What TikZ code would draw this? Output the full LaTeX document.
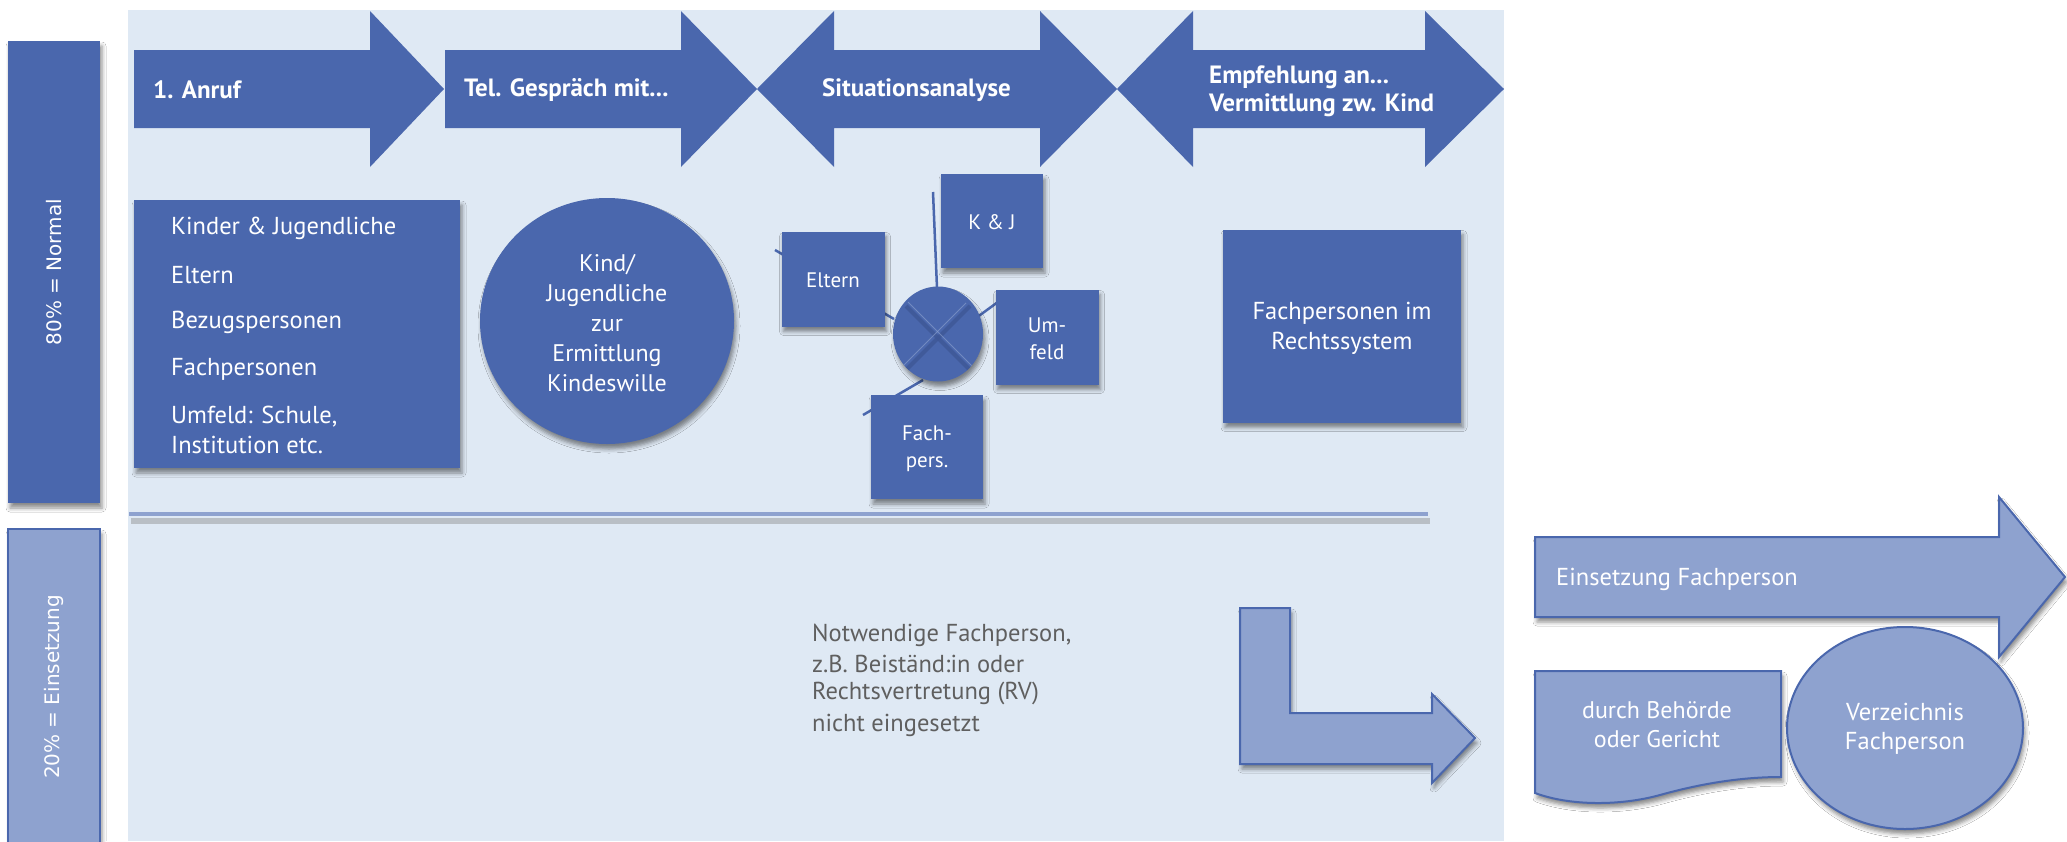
\documentclass[tikz,border=0pt]{standalone}
\usepackage{fontspec}
\setmainfont{PT Sans}
\newfontfamily\dejavu{DejaVu Sans}
\usetikzlibrary{shadows,shadows.blur,shapes.geometric}
\definecolor{dblue}{HTML}{4A67AD}
\definecolor{lblue}{HTML}{8EA2CF}
\definecolor{bgblue}{HTML}{DFE9F4}
\definecolor{graytxt}{HTML}{5F5F5F}
\definecolor{groove}{HTML}{3E5796}
\newcommand{\fsz}[1]{\fontsize{#1}{#1}\selectfont}
\tikzset{
  shad/.style={blur shadow={shadow xshift=2pt, shadow yshift=-5pt, shadow blur radius=4pt, shadow opacity=45}},
  dbox/.style={rectangle, fill=dblue, shad, inner sep=0pt},
  lshape/.style={fill=lblue, draw=dblue, line width=2pt, shad},
  wtxt/.style={text=white, inner sep=0pt},
  boldtxt/.style={wtxt, font=\bfseries\fsz{25}},
  regtxt/.style={wtxt, font=\fsz{24.5}},
  smalltxt/.style={wtxt, font=\fsz{21}},
  conn/.style={draw=dblue, line width=2.5pt},
}
\begin{document}
\begin{tikzpicture}[x=1pt,y=-1pt]
\useasboundingbox (0,0) rectangle (2067,841);
\fill[white] (0,0) rectangle (2067,841);
% background panel
\fill[bgblue] (128,10) rectangle (1504,841);

% left bars
\node[dbox, minimum width=92pt, minimum height=462pt] (bar80) at (54,272) {};
\node[wtxt, rotate=90, font=\dejavu\fsz{20}] (bar80t) at (bar80) {80\% = Normal};
\node[rectangle, fill=lblue, draw=dblue, line width=1.5pt, shad, minimum width=92pt, minimum height=320pt, inner sep=0pt] (bar20) at (54,689) {};
\node[wtxt, rotate=90, font=\dejavu\fsz{20}] (bar20t) at (54,687) {20\% = Einsetzung};

% top process arrows
\fill[dblue] (134,50) -- (370,50) -- (370,11) -- (444,89) -- (370,167) -- (370,128) -- (134,128) -- cycle;
\fill[dblue] (445,50) -- (681,50) -- (681,11) -- (757,89) -- (681,167) -- (681,128) -- (445,128) -- cycle;
\fill[dblue] (757,89) -- (834,11) -- (834,50) -- (1040,50) -- (1040,11) -- (1117,89) -- (1040,167) -- (1040,128) -- (834,128) -- (834,167) -- cycle;
\fill[dblue] (1117,89) -- (1193,11) -- (1193,50) -- (1425,50) -- (1425,11) -- (1504,89) -- (1425,167) -- (1425,128) -- (1193,128) -- (1193,167) -- cycle;
\node[boldtxt, anchor=west] (a1) at (153,90) {1. Anruf};
\node[boldtxt, anchor=west] (a2) at (464,90) {Tel. Gespräch mit...};
\node[boldtxt, anchor=west] (a3) at (822,90) {Situationsanalyse};
\node[boldtxt, anchor=west, align=left, font=\bfseries\fontsize{25}{28}\selectfont] (a4) at (1209,91) {Empfehlung an...\\Vermittlung zw. Kind};

% Kinder box
\node[dbox, minimum width=326pt, minimum height=268pt] (kinder) at (297,334) {};
\node[regtxt, anchor=west] (k1) at (171,228) {Kinder \& Jugendliche};
\node[regtxt, anchor=west] (k2) at (171,275) {Eltern};
\node[regtxt, anchor=west] (k3) at (171,322) {Bezugspersonen};
\node[regtxt, anchor=west] (k4) at (171,369) {Fachpersonen};
\node[regtxt, anchor=west] (k5) at (171,417) {Umfeld: Schule,};
\node[regtxt, anchor=west] (k6) at (171,445) {Institution etc.};

% Kind circle
\node[ellipse, fill=dblue, shad, minimum width=254pt, minimum height=246pt, inner sep=0pt] (kind) at (607,321) {};
\node[wtxt, align=center, font=\fontsize{24}{29.8}\selectfont] (kindt) at (607,323) {Kind/\\Jugendliche\\zur\\Ermittlung\\Kindeswille};

% cluster
\coordinate (eA) at (775,250);
\coordinate (eB) at (894,319);
\coordinate (uA) at (976,318);
\coordinate (uB) at (1002,299);
\coordinate (fA) at (923,380);
\coordinate (fB) at (863,415);
\coordinate (kA) at (933,192);
\coordinate (kB) at (938,312);
\draw[conn] (eA) -- (eB);
\draw[conn] (uA) -- (uB);
\draw[conn] (fA) -- (fB);
\node[ellipse, fill=dblue, shad, minimum width=90pt, minimum height=95pt, inner sep=0pt] (hub) at (938,334) {};
\begin{scope}
\clip (938,334) ellipse [x radius=45, y radius=47.5];
\draw[groove, line width=4pt, opacity=0.8] (906,306) -- (970,370);
\draw[groove, line width=4pt, opacity=0.8] (970,306) -- (906,370);
\draw[lblue, line width=1pt, opacity=0.6] (908,302) -- (972,366);
\draw[lblue, line width=1pt, opacity=0.6] (966,303) -- (902,367);
\end{scope}
\node[dbox, minimum width=102pt, minimum height=94pt] (kj) at (992,221) {};
\node[smalltxt] (kjt) at (992,222) {K \& J};
\node[dbox, minimum width=103pt, minimum height=95pt] (elt) at (833,279) {};
\node[smalltxt] (eltt) at (833,280) {Eltern};
\node[dbox, minimum width=103pt, minimum height=95pt] (umf) at (1047,337) {};
\node[smalltxt, align=center, font=\fontsize{21}{27}\selectfont] (umft) at (1047,339) {Um-\\feld};
\node[dbox, minimum width=112pt, minimum height=104pt] (fach) at (927,447) {};
\node[smalltxt, align=center, font=\fontsize{21}{27}\selectfont] (facht) at (927,449) {Fach-\\pers.};
\draw[conn] (kA) -- (kB);

% Fachpersonen im Rechtssystem
\node[dbox, minimum width=238pt, minimum height=193pt] (recht) at (1342,326) {};
\node[wtxt, align=center, font=\fontsize{24.5}{30}\selectfont] (rechtt) at (1342,328) {Fachpersonen im\\Rechtssystem};

% divider
\draw[black!45, line width=6pt, opacity=0.45] (131,521) -- (1430,521);
\draw[lblue, line width=4pt] (129,514) -- (1428,514);

% grey text
\node[inner sep=0pt, anchor=west, text=graytxt, font=\fsz{24.5}] (g1) at (812,635) {Notwendige Fachperson,};
\node[inner sep=0pt, anchor=west, text=graytxt, font=\fsz{24.5}] (g2) at (812,664) {z.B. Beiständ:in oder};
\node[inner sep=0pt, anchor=west, text=graytxt, font=\fsz{24.5}] (g3) at (812,693) {Rechtsvertretung (RV)};
\node[inner sep=0pt, anchor=west, text=graytxt, font=\fsz{24.5}] (g4) at (812,725) {nicht eingesetzt};

% L arrow
\path[lshape] (1240,608) -- (1290,608) -- (1290,713) -- (1432,713) -- (1432,694) -- (1475,738) -- (1432,783) -- (1432,764) -- (1240,764) -- cycle;

% Einsetzung arrow
\path[lshape] (1535,537) -- (1999,537) -- (1999,497) -- (2065,577) -- (1999,657) -- (1999,617) -- (1535,617) -- cycle;
\node[regtxt, anchor=west] (einst) at (1556,579) {Einsetzung Fachperson};

% document shape
\path[lshape] (1535,671) -- (1781,671) -- (1781,777) .. controls (1750,777) and (1710,781) .. (1660,795) .. controls (1620,806) and (1570,806) .. (1535,793) -- cycle;
\node[wtxt, align=center, font=\fontsize{24}{29}\selectfont] (doct) at (1657,725) {durch Behörde\\oder Gericht};

% Verzeichnis ellipse
\node[ellipse, fill=lblue, draw=dblue, line width=2pt, shad, minimum width=236pt, minimum height=202pt, inner sep=0pt] (verz) at (1905,728) {};
\node[wtxt, align=center, font=\fontsize{24.5}{29}\selectfont] (verzt) at (1905,729) {Verzeichnis\\Fachperson};
\end{tikzpicture}
\end{document}
